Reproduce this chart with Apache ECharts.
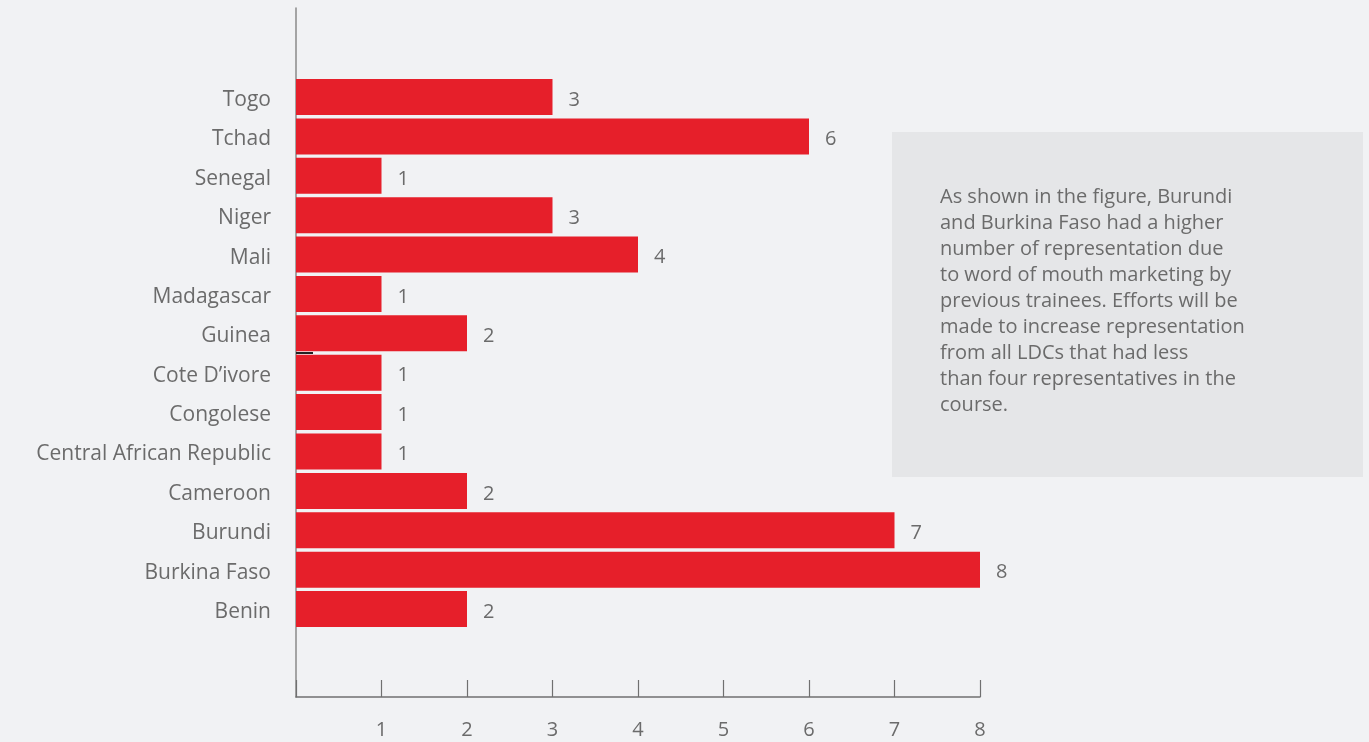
<!DOCTYPE html>
<html><head><meta charset="utf-8">
<script src="https://cdn.jsdelivr.net/npm/echarts@6/dist/echarts.min.js"></script>
<style>html,body{margin:0;padding:0;background:#f1f2f4;}#c{width:1369px;height:742px;}</style>
</head><body><div id="c"></div>
<script>
const categories = ['Togo','Tchad','Senegal','Niger','Mali','Madagascar','Guinea','Cote D\u2019ivore','Congolese','Central African Republic','Cameroon','Burundi','Burkina Faso','Benin'];
const values = [3,6,1,3,4,1,2,1,1,1,2,7,8,2];
const xTicks = [0,1,2,3,4,5,6,7,8];
const note = 'As shown in the figure, Burundi\nand Burkina Faso had a higher\nnumber of representation due\nto word of mouth marketing by\nprevious trainees. Efforts will be\nmade to increase representation\nfrom all LDCs that had less\nthan four representatives in the\ncourse.';

const FONT = 'Open Sans';
const TXT = '#6b6b6b';
const chart = echarts.init(document.getElementById('c'));
chart.setOption({
  backgroundColor: '#f1f2f4',
  animation: false,
  grid: [
    {left: 296, right: 389, top: 77.4, bottom: 742 - 628.7, containLabel: false},
    {left: 296, right: 389, top: 8, bottom: 45, containLabel: false}
  ],
  xAxis: [
    {gridIndex: 0, type: 'value', min: 0, max: 8, show: false},
    {gridIndex: 1, type: 'value', min: xTicks[0], max: xTicks[xTicks.length-1], interval: 1,
     axisLine: {show: true, lineStyle: {color: '#707070', width: 1.5}},
     axisTick: {show: true, inside: true, length: 17, lineStyle: {color: '#707070', width: 1.2}},
     splitLine: {show: false},
     axisLabel: {show: true, margin: 23, color: TXT, fontFamily: FONT, fontSize: 20,
       formatter: v => v === 0 ? '' : String(v)}}
  ],
  yAxis: [
    {gridIndex: 0, type: 'category', data: categories, inverse: true,
     axisLine: {show: false}, axisTick: {show: false},
     axisLabel: {margin: 25, color: TXT, fontFamily: FONT, fontSize: 21,
       formatter: v => '{a|' + v + '}',
       rich: {a: {color: TXT, fontFamily: FONT, fontSize: 21, padding: [6, 0, 0, 0]}}}},
    {gridIndex: 1, type: 'value', min: 0, max: 1,
     axisLine: {show: true, lineStyle: {color: '#8a8a8a', width: 1.5}},
     axisTick: {show: false}, axisLabel: {show: false}, splitLine: {show: false}}
  ],
  series: [{
    type: 'bar', xAxisIndex: 0, yAxisIndex: 0, data: values, barWidth: 36,
    itemStyle: {color: '#e61f2a'},
    label: {show: true, position: 'right', distance: 16, color: TXT, fontFamily: FONT, fontSize: 20, offset: [0, 3]}
  }],
  graphic: [
    {type: 'rect', shape: {x: 892, y: 132, width: 471, height: 345}, style: {fill: '#e5e6e8'}, z: 1},
    {type: 'text', left: 940, top: 184, z: 2,
     style: {text: note, fill: TXT, font: '20px "' + FONT + '"', lineHeight: 26}},
    {type: 'line', shape: {x1: 296, y1: 353, x2: 313, y2: 353}, style: {stroke: '#222', lineWidth: 2}, z: 3}
  ]
});
</script></body></html>
